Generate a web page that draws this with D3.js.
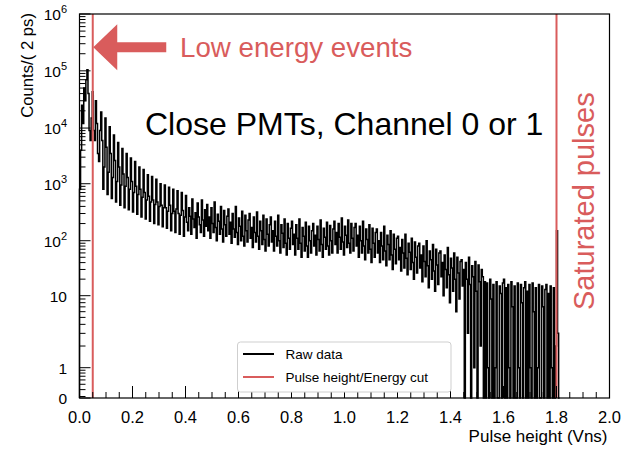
<!DOCTYPE html>
<html><head><meta charset="utf-8">
<script src="https://cdn.jsdelivr.net/npm/d3@7"></script>
<style>
body{margin:0;background:#fff}
svg{display:block}
text{font-family:"Liberation Sans",Arial,Helvetica,sans-serif}
</style>
</head><body>
<svg id="c" width="636" height="453"></svg>
<script>
// ---------------- data ----------------
const binWidth = 0.004;            // Vns per histogram bin (bins start at 0)
const counts = [
  // 0.00 - 0.08
  800, 4000, 25000, 12000, 50000, 30000, 70000, 105000, 40000, 9000, 6000, 15000, 43000, 9000, 6000, 30000, 12000, 3500, 2500, 9000,
  // 0.08 - 0.16
  19000, 6000, 800, 2000, 15000, 4500, 650, 1600, 10500, 3500, 550, 1300, 7500, 2600, 480, 1100, 5500, 2000, 420, 950,
  // 0.16 - 0.24
  4300, 1500, 380, 900, 3500, 1300, 350, 800, 2900, 1100, 320, 700, 2500, 900, 290, 650, 2000, 800, 260, 580,
  // 0.24 - 0.32
  1800, 700, 240, 520, 1450, 600, 220, 480, 1350, 520, 200, 430, 1200, 480, 190, 400, 1000, 420, 175, 380,
  // 0.32 - 0.40
  950, 380, 165, 330, 870, 420, 150, 300, 800, 330, 140, 360, 750, 300, 130, 280, 700, 340, 120, 260,
  // 0.40 - 0.48
  620, 210, 150, 380, 270, 130, 540, 240, 170, 310, 110, 460, 260, 190, 140, 520, 230, 120, 350, 180,
  // 0.48 - 0.56
  430, 150, 260, 110, 380, 200, 140, 480, 170, 100, 290, 220, 130, 400, 160, 95, 340, 190, 120, 270,
  // 0.56 - 0.64
  360, 130, 210, 90, 300, 160, 115, 400, 140, 85, 250, 180, 100, 330, 120, 80, 280, 150, 95, 230,
  // 0.64 - 0.72
  300, 110, 170, 75, 260, 140, 95, 320, 120, 70, 220, 150, 85, 280, 105, 65, 240, 130, 80, 190,
  // 0.72 - 0.80
  260, 95, 150, 65, 220, 120, 80, 280, 100, 60, 190, 135, 75, 240, 90, 55, 200, 110, 70, 165,
  // 0.80 - 0.88
  220, 85, 130, 55, 190, 110, 70, 240, 90, 50, 170, 120, 65, 210, 80, 50, 180, 100, 60, 150,
  // 0.88 - 0.96
  200, 80, 125, 55, 180, 105, 65, 230, 85, 50, 165, 115, 70, 210, 80, 55, 185, 100, 60, 160,
  // 0.96 - 1.04
  220, 85, 140, 60, 200, 115, 70, 250, 95, 55, 180, 125, 75, 230, 90, 60, 200, 110, 65, 170,
  // 1.04 - 1.12
  200, 80, 125, 50, 180, 100, 60, 220, 80, 45, 160, 105, 60, 190, 70, 40, 165, 90, 50, 140,
  // 1.12 - 1.20
  160, 60, 100, 40, 140, 80, 45, 180, 65, 35, 125, 85, 45, 150, 55, 30, 130, 70, 38, 110,
  // 1.20 - 1.28
  120, 45, 75, 28, 105, 60, 32, 130, 48, 24, 90, 62, 30, 110, 40, 20, 95, 50, 26, 80,
  // 1.28 - 1.36
  90, 32, 55, 18, 80, 42, 22, 100, 35, 14, 65, 45, 20, 85, 28, 12, 70, 36, 16, 60,
  // 1.36 - 1.44
  65, 22, 40, 10, 55, 30, 14, 75, 24, 8, 48, 32, 12, 60, 20, 6, 50, 26, 9, 42,
  // 1.44 - 1.52
  45, 15, 30, 0, 40, 20, 3, 50, 16, 0, 35, 22, 1, 42, 12, 0, 36, 18, 2, 30,
  // 1.52 - 1.60
  22, 0, 18, 0, 17, 1, 0, 20, 9, 0, 16, 0, 1, 18, 0, 0, 15, 11, 0, 17,
  // 1.60 - 1.68
  20, 0, 14, 0, 16, 1, 0, 18, 7, 0, 15, 0, 0, 17, 1, 0, 16, 8, 0, 14,
  // 1.68 - 1.76
  18, 0, 12, 0, 16, 1, 0, 17, 6, 0, 14, 0, 1, 16, 0, 0, 15, 7, 0, 13,
  // 1.76 - 1.812
  16, 0, 11, 0, 15, 1, 0, 14, 0, 2, 150, 3, 0
];
const xDomain = [0, 2.0];
const xMajorTicks = [0, 0.2, 0.4, 0.6, 0.8, 1.0, 1.2, 1.4, 1.6, 1.8, 2.0];
const xTickLabels = ["0.0","0.2","0.4","0.6","0.8","1.0","1.2","1.4","1.6","1.8","2.0"];
const xMinorStep = 0.05;
const yTickValues = [0, 1, 10, 1e2, 1e3, 1e4, 1e5, 1e6];
const yTickBase = ["0", "1", "10", "10", "10", "10", "10", "10"];
const yTickExp  = ["", "", "", "2", "3", "4", "5", "6"];
// axis break points (log10 of value) and their relative heights in the frame
const yBreakLogs = [-0.55, 0, 1, 2, 3, 4, 5, 6];
const yBreakFrac = [0, 0.0789, 0.2664, 0.4096, 0.558, 0.703, 0.852, 1];
const cutLow = 0.05, cutHigh = 1.8;
const arrowTipValue = 2.6e5;
const xTitle = "Pulse height (Vns)";
const yTitle = "Counts/( 2 ps)";
const mainLabel = "Close PMTs, Channel 0 or 1";
const lowLabel = "Low energy events";
const satLabel = "Saturated pulses";
const legendLabels = ["Raw data", "Pulse height/Energy cut"];
const red = "#d95c5c";

// ---------------- layout ----------------
const svg = d3.select("#c");
const L = 79.5, R = 609.5, T = 14, B = 398;
const H = B - T;
const x = d3.scaleLinear().domain(xDomain).range([L, R]);
const yLog = d3.scaleLinear().domain(yBreakLogs).range(yBreakFrac.map(f => B - f * H));
const y = v => v > 0 ? yLog(Math.max(Math.log10(v), yBreakLogs[0])) : B;

// ---------------- histogram ----------------
const pts = [[0, 0]];
counts.forEach((c, i) => { pts.push([i * binWidth, c]); pts.push([(i + 1) * binWidth, c]); });
pts.push([counts.length * binWidth, 0]);
const line = d3.line().x(d => x(d[0])).y(d => y(d[1]));
svg.append("path").attr("d", line(pts)).attr("fill", "none")
  .attr("stroke", "#000").attr("stroke-width", 1.5).attr("stroke-linejoin", "miter");

// ---------------- cut lines ----------------
[cutLow, cutHigh].forEach(c => {
  svg.append("line").attr("x1", x(c)).attr("x2", x(c)).attr("y1", T).attr("y2", B)
    .attr("stroke", red).attr("stroke-width", 2);
});

// ---------------- frame & axes ----------------
svg.append("rect").attr("x", L).attr("y", T).attr("width", R - L).attr("height", H)
  .attr("fill", "none").attr("stroke", "#000").attr("stroke-width", 1.2);

const ax = svg.append("g").attr("stroke", "#000").attr("stroke-width", 1);
d3.range(0, 2.0001, xMinorStep).forEach(v => {
  const major = xMajorTicks.some(t => Math.abs(t - v) < 1e-6);
  ax.append("line").attr("x1", x(v)).attr("x2", x(v)).attr("y1", B).attr("y2", B - (major ? 12 : 6));
});
xMajorTicks.forEach((v, i) => {
  svg.append("text").attr("x", x(v)).attr("y", 423).attr("text-anchor", "middle")
    .attr("font-size", 16.5).text(xTickLabels[i]);
});
yTickValues.forEach(v => {
  ax.append("line").attr("x1", L).attr("x2", L + 11).attr("y1", y(v)).attr("y2", y(v));
});
const minors = [];
for (let d = -1; d <= 5; d++) for (let k = 2; k <= 9; k++) {
  const v = k * Math.pow(10, d);
  if (Math.log10(v) > yBreakLogs[0]) minors.push(v);
}
minors.forEach(v => {
  ax.append("line").attr("x1", L).attr("x2", L + 6).attr("y1", y(v)).attr("y2", y(v));
});
yTickValues.forEach((v, i) => {
  const t = svg.append("text").attr("x", 67).attr("y", y(v) + 6).attr("text-anchor", "end")
    .attr("font-size", 15.5);
  if (yTickExp[i]) {
    t.append("tspan").text(yTickBase[i]);
    t.append("tspan").attr("dy", -7).attr("font-size", 11).text(yTickExp[i]);
  } else t.text(yTickBase[i]);
});

svg.append("text").attr("x", R - 2).attr("y", 442).attr("text-anchor", "end")
  .attr("font-size", 17).text(xTitle);
svg.append("text").attr("transform", `translate(33,${T - 1}) rotate(-90)`)
  .attr("text-anchor", "end").attr("font-size", 16.7).text(yTitle);

// ---------------- annotations ----------------
const tipX = x(cutLow) + 0.5, tipY = y(arrowTipValue);
const headBack = tipX + 24, shaftEnd = tipX + 73;
svg.append("path")
  .attr("d", `M${tipX},${tipY} L${headBack},${tipY - 23} L${headBack},${tipY - 5} L${shaftEnd},${tipY - 5} L${shaftEnd},${tipY + 5} L${headBack},${tipY + 5} L${headBack},${tipY + 23} Z`)
  .attr("fill", red);
svg.append("text").attr("x", 180).attr("y", 57).attr("font-size", 27.7).attr("fill", red).text(lowLabel);
svg.append("text").attr("x", 145).attr("y", 135).attr("font-size", 32).attr("fill", "#000").text(mainLabel);
svg.append("text").attr("transform", `translate(594,310) rotate(-90)`)
  .attr("font-size", 29).attr("fill", red).text(satLabel);

// ---------------- legend ----------------
const lg = svg.append("g");
lg.append("rect").attr("x", 237.5).attr("y", 342).attr("width", 213.5).attr("height", 50)
  .attr("rx", 3).attr("fill", "#fff").attr("stroke", "#cfcfcf").attr("stroke-width", 1);
[["#000", 354], [red, 377]].forEach((s, i) => {
  lg.append("line").attr("x1", 243).attr("x2", 274).attr("y1", s[1]).attr("y2", s[1])
    .attr("stroke", s[0]).attr("stroke-width", 2);
  lg.append("text").attr("x", 285.5).attr("y", s[1] + 5).attr("font-size", 13.5).text(legendLabels[i]);
});
</script>
</body></html>
